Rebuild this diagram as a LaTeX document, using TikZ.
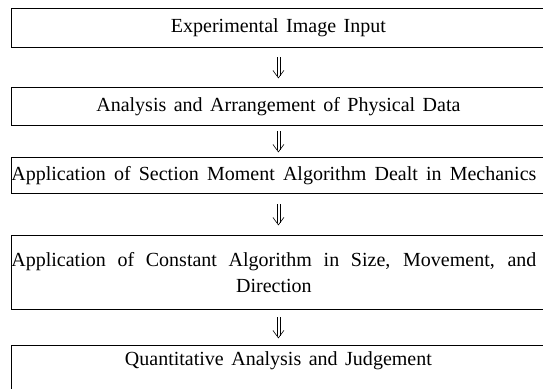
\documentclass[tikz,border=0pt]{standalone}
\usepackage{fontspec}
\setmainfont[WordSpace=1.5]{Liberation Serif}
\usetikzlibrary{calc}

\tikzset{
  stage/.style={draw=black, line width=0.8pt, anchor=north west,
    minimum width=534pt, inner sep=0pt,
    font=\fontsize{20}{26}\selectfont},
  arrowline/.style={draw=black, line width=0.6pt},
  pics/downarrow/.style={code={
    \draw[arrowline] (-1.4,-10) -- (-1.4,8.5);
    \draw[arrowline] (1.4,-10) -- (1.4,8.5);
    \draw[arrowline] (-5.5,3) -- (0,10.5) -- (5.5,3);
  }}
}

\begin{document}
\begin{tikzpicture}[x=1pt, y=-1pt]
  \useasboundingbox (0,0) rectangle (543,388);
  \clip (0,0) rectangle (543,388);

  \node[stage, minimum height=39pt] (b1) at (11,8) {Experimental Image Input};
  \node[stage, minimum height=38pt] (b2) at (11,87) {Analysis and Arrangement of Physical Data};
  \node[stage, minimum height=36pt] (b3) at (11,157)
    {\makebox[525pt][s]{Application of Section Moment Algorithm Dealt in Mechanics}\hspace*{9pt}};
  \node[stage, minimum height=74pt, align=center] (b4) at (11,235)
    {\makebox[525pt][s]{Application of Constant Algorithm in Size, Movement, and}\hspace*{9pt}\\
     Direction\hspace*{9pt}};
  % the last box runs past the lower edge of the page
  \node[stage, minimum height=46pt, text depth=20pt] (b5) at (11,345)
    {Quantitative Analysis and Judgement};

  \pic at ($(b1.south)!0.5!(b2.north)$) {downarrow};
  \pic at ($(b2.south)!0.5!(b3.north)$) {downarrow};
  \pic at ($(b3.south)!0.5!(b4.north)$) {downarrow};
  \pic at ($(b4.south)!0.5!(b5.north)$) {downarrow};
\end{tikzpicture}
\end{document}
